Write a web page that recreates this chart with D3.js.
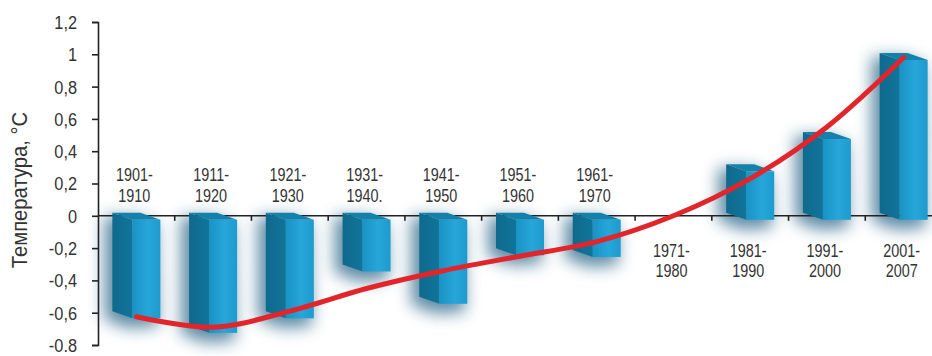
<!DOCTYPE html>
<html><head><meta charset="utf-8">
<script src="https://cdn.jsdelivr.net/npm/d3@7"></script>
<style>
body{margin:0;background:#fff}
text{font-family:"Liberation Sans",Arial,sans-serif;fill:#333}
</style>
</head><body><svg id="c" width="932" height="356"></svg>
<script>
const categories = ["1901-1910","1911-1920","1921-1930","1931-1940.","1941-1950","1951-1960","1961-1970","1971-1980","1981-1990","1991-2000","2001-2007"];
const barValues = [-0.61,-0.70,-0.61,-0.32,-0.52,-0.22,-0.23,0,0.30,0.50,0.99];
const trendValues = [-0.625,-0.69,-0.59,-0.45,-0.34,-0.25,-0.16,0.0,0.23,0.55,0.98];
const yTicks = [-0.8,-0.6,-0.4,-0.2,0,0.2,0.4,0.6,0.8,1,1.2];
const yTickLabels = ["-0.8","-0,6","-0,4","-0,2","0","0,2","0,4","0,6","0,8","1","1,2"];
const yTitle = "Температура, °C";

const svg = d3.select("#c");
const x = d3.scaleBand().domain(categories).range([98,942]);
const y = d3.scaleLinear().domain([-0.8,1.2]).range([345,22]);
const cx = c => x(c) + x.bandwidth()/2;

const defs = svg.append("defs");
defs.append("filter").attr("id","blur").attr("x","-100%").attr("y","-50%").attr("width","300%").attr("height","200%")
  .append("feGaussianBlur").attr("stdDeviation",8);
const gF = defs.append("linearGradient").attr("id","front").attr("x1",0).attr("x2",1).attr("y1",0).attr("y2",0);
gF.append("stop").attr("offset","0%").attr("stop-color","#1a92c4");
gF.append("stop").attr("offset","55%").attr("stop-color","#26a6da");
gF.append("stop").attr("offset","100%").attr("stop-color","#1e9bce");
const gS = defs.append("linearGradient").attr("id","side").attr("x1",0).attr("x2",1).attr("y1",0).attr("y2",0);
gS.append("stop").attr("offset","0%").attr("stop-color","#0f6a8d");
gS.append("stop").attr("offset","100%").attr("stop-color","#11749a");

const W = 28, DX = -20, DY = -7, OFF = 4;
const boxes = categories.map((c,i)=>({c, v:barValues[i]})).filter(d=>d.v!==0).map(d=>{
  const fx0 = cx(d.c) - 4, fx1 = fx0 + W;
  const a = y(0)+OFF, b = y(d.v)+OFF;
  return {...d, fx0, fx1, top:Math.min(a,b), bot:Math.max(a,b)};
});

// shadows (soft blue halo)
svg.append("g").selectAll("polygon").data(boxes).join("polygon")
  .attr("points", d=>[[d.fx0+DX-4,d.top+DY],[d.fx1+DX,d.top+DY],[d.fx1,d.top],[d.fx1+2,d.bot+4],[d.fx0,d.bot+6],[d.fx0+DX-4,d.bot+DY+4]].join(" "))
  .attr("fill","#2b6688").attr("opacity",0.75).attr("transform","translate(-4,4)").attr("filter","url(#blur)");

// x axis (zero line)
const xAxis = svg.append("g").attr("transform",`translate(0,${y(0)})`);
xAxis.append("line").attr("x1",98).attr("x2",932).attr("stroke","#222").attr("stroke-width",1.6);
xAxis.selectAll("line.t").data(categories.slice(1)).join("line").attr("class","t")
  .attr("x1",d=>x(d)).attr("x2",d=>x(d)).attr("y1",0).attr("y2",5).attr("stroke","#222").attr("stroke-width",1.6);

// y axis
const yAxis = svg.append("g").attr("transform","translate(98,0)")
  .call(d3.axisLeft(y).tickValues(yTicks).tickSize(6).tickSizeOuter(6).tickFormat((d,i)=>yTickLabels[i]));
yAxis.select(".domain").attr("stroke","#222").attr("stroke-width",1.6);
yAxis.selectAll(".tick line").attr("stroke","#222").attr("stroke-width",1.6);
yAxis.selectAll(".tick text").attr("x",-21/0.86).attr("dy","0.34em").attr("transform","scale(0.86,1)")
  .style("font-size","19px").style("font-family","'Liberation Sans',Arial,sans-serif").attr("fill","#333");

// bars
const gb = svg.append("g");
boxes.forEach(d=>{
  gb.append("polygon").attr("points",[[d.fx0,d.top],[d.fx0+DX,d.top+DY],[d.fx0+DX,d.bot+DY],[d.fx0,d.bot]].join(" ")).attr("fill","url(#side)");
  gb.append("polygon").attr("points",[[d.fx0,d.top],[d.fx1,d.top],[d.fx1+DX,d.top+DY],[d.fx0+DX,d.top+DY]].join(" ")).attr("fill","#1580aa");
  gb.append("rect").attr("x",d.fx0).attr("y",d.top).attr("width",W).attr("height",d.bot-d.top).attr("fill","url(#front)");
});

// trend curve
const line = d3.line().x((d,i)=>cx(categories[i])).y(d=>y(d)).curve(d3.curveCatmullRom.alpha(0.5));
svg.append("path").attr("d",line(trendValues)).attr("fill","none").attr("stroke","#e2252a")
  .attr("stroke-width",5).attr("stroke-linecap","round");

// category labels
const S = 0.8;
const gl = svg.append("g").style("font-size","18px").attr("text-anchor","middle");
categories.forEach((c,i)=>{
  const k = c.indexOf("-");
  const l1 = c.slice(0,k+1), l2 = c.slice(k+1);
  const above = barValues[i] < 0;
  const b1 = above ? y(0)-35 : y(0)+41, b2 = above ? y(0)-14 : y(0)+61;
  gl.append("text").attr("transform",`translate(${cx(c)-2},${b1}) scale(${S},1)`).text(l1);
  gl.append("text").attr("transform",`translate(${cx(c)-2},${b2}) scale(${S},1)`).text(l2);
});

// y title
svg.append("text").attr("transform","translate(27,190) rotate(-90) scale(0.92,1)").attr("text-anchor","middle")
  .style("font-size","22px").text(yTitle);
</script></body></html>
